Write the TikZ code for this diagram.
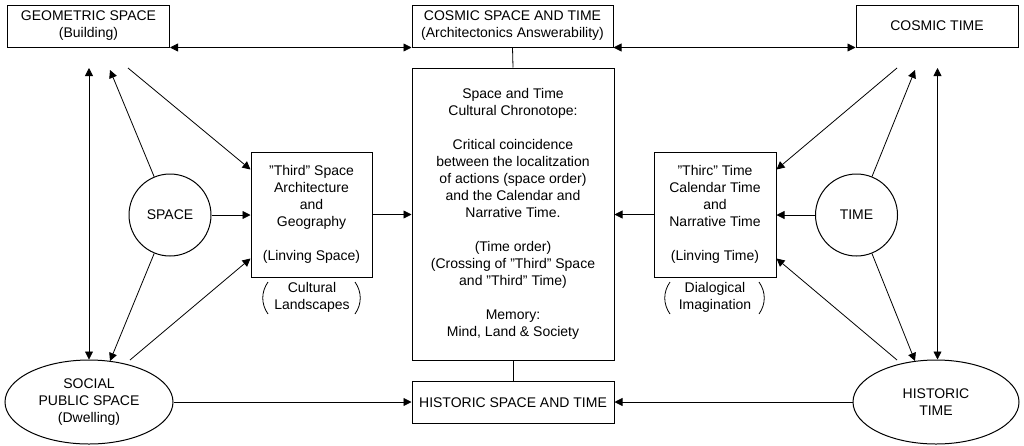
\documentclass[tikz,border=0pt]{standalone}
\usepackage{fontspec}
\setmainfont{Liberation Sans}
\usetikzlibrary{arrows.meta,shapes.geometric}
\begin{document}
\begin{tikzpicture}[x=1pt,y=-1pt,
  every node/.style={font=\fontsize{14}{17}\selectfont, align=center, inner sep=0pt},
  box/.style={draw, line width=1pt, rectangle},
  circ/.style={draw, line width=1pt, circle},
  ell/.style={draw, line width=1pt, ellipse},
  conn/.style={line width=0.8pt},
  arr/.style={conn, -{Triangle[length=8pt,width=8pt]}},
  darr/.style={conn, {Triangle[length=8pt,width=8pt]}-{Triangle[length=8pt,width=8pt]}},
  paren/.style={line width=0.8pt}
]
\useasboundingbox (0,0) rectangle (1024,445);

% top boxes
\node[box, minimum width=162pt, minimum height=42pt] (geo) at (88.5,26) {GEOMETRIC SPACE\\(Building)};
\node[box, minimum width=201pt, minimum height=42pt] (cosmic) at (512.5,26) {COSMIC SPACE AND TIME\\(Architectonics Answerability)};
\node[box, minimum width=162pt, minimum height=42pt] (ctime) at (937,26) {COSMIC TIME};

% centre
\node[box, minimum width=202pt, minimum height=292pt] (chrono) at (513,214) {Space and Time\\Cultural Chronotope:\\[17pt]Critical coincidence\\between the localitzation\\of actions (space order)\\and the Calendar and\\Narrative Time.\\[17pt](Time order)\\(Crossing of "Third" Space\\and "Third" Time)\\[17pt]Memory:\\Mind, Land \& Society};
\node[box, minimum width=202pt, minimum height=42pt] (hist) at (513,402.5) {HISTORIC SPACE AND TIME};

% third space / time
\node[box, minimum width=121pt, minimum height=125pt] (tsp) at (311.5,214.5) {"Third" Space\\Architecture\\and\\Geography\\[17pt](Linving Space)};
\node[box, minimum width=122pt, minimum height=125pt] (ttm) at (715,214.5) {"Thirc" Time\\Calendar Time\\and\\Narrative Time\\[17pt](Linving Time)};

\node (cl) at (312,297) {Cultural\\Landscapes};
\node (di) at (715,297) {Dialogical\\Imagination};
\draw[paren] (268,282) .. controls (261,292) and (261,304) .. (268,314);
\draw[paren] (355,282) .. controls (362,292) and (362,304) .. (355,314);
\draw[paren] (670,282) .. controls (663,292) and (663,304) .. (670,314);
\draw[paren] (759,282) .. controls (766,292) and (766,304) .. (759,314);

% circles and ellipses
\node[circ, minimum size=82pt] (space) at (170,215) {SPACE};
\node[circ, minimum size=82pt] (time) at (856.5,215) {TIME};
\node[ell, minimum width=168pt, minimum height=84pt] (social) at (89,402) {SOCIAL\\PUBLIC SPACE\\(Dwelling)};
\node[ell, minimum width=166pt, minimum height=84pt] (historic) at (936,402) {HISTORIC\\TIME};

% free ends
\coordinate (gv) at (89,68);
\coordinate (g2) at (110,70);
\coordinate (g3) at (128,68);
\coordinate (s2) at (110,361);
\coordinate (s3) at (130,360);
\coordinate (cv) at (937.5,68);
\coordinate (c2) at (915,70);
\coordinate (c3) at (897,68);
\coordinate (h2) at (915,361);
\coordinate (h3) at (897,360);

% top connectors
\draw[darr] (geo.south east) -- (cosmic.south west);
\draw[darr] (cosmic.south east) -- (ctime.south west);
\draw[conn] (cosmic.south) -- (chrono.north);
\draw[conn] (chrono.south) -- (hist.north);

% bottom
\draw[arr] (social.east) -- (social.east -| hist.west);
\draw[arr] (historic.west) -- (historic.west -| hist.east);

% middle row
\draw[arr] (space.east) -- (space.east -| tsp.west);
\draw[arr] (tsp.east) -- (tsp.east -| chrono.west);
\draw[arr] (time.west) -- (time.west -| ttm.east);
\draw[arr] (ttm.west) -- (ttm.west -| chrono.east);

% left side
\draw[darr] (gv) -- (gv |- social.north);
\draw[arr] (space) -- (g2);
\draw[arr] (space) -- (s2);
\draw[arr] (g3) -- ([yshift=-18pt]tsp.north west);
\draw[arr] (s3) -- ([yshift=19pt]tsp.south west);

% right side
\draw[darr] (cv) -- (cv |- historic.north);
\draw[arr] (time) -- (c2);
\draw[arr] (time) -- (h2);
\draw[arr] (c3) -- ([yshift=-18pt]ttm.north east);
\draw[arr] (h3) -- ([yshift=19pt]ttm.south east);
\end{tikzpicture}
\end{document}
